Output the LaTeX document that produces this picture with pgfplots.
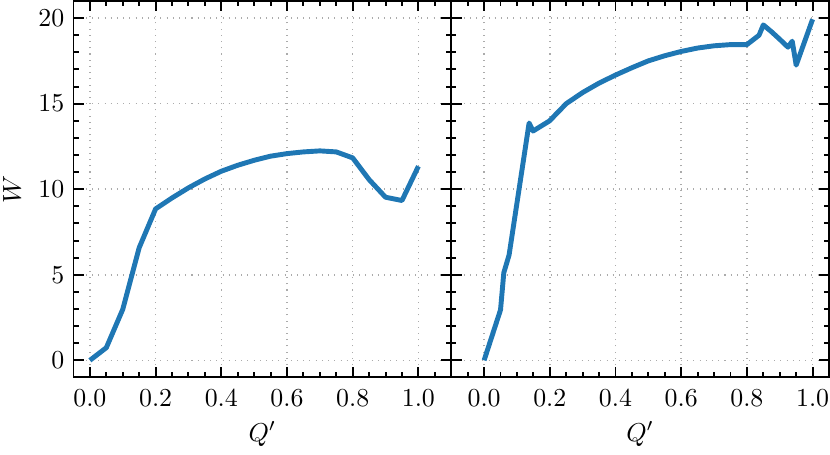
\documentclass[border=0pt]{standalone}
\usepackage{pgfplots}
\pgfplotsset{compat=1.18}
\definecolor{tabblue}{HTML}{1F77B4}
\pgfplotsset{
  myax/.style={
    scale only axis, width=146pt, height=145.5pt,
    ymin=-1, ymax=21,
    ytick={0,5,10,15,20},
    minor ytick={1,2,3,4,6,7,8,9,11,12,13,14,16,17,18,19},
    xtick={0,0.2,0.4,0.6,0.8,1},
    minor xtick={-0.05,0.05,0.1,0.15,0.25,0.3,0.35,0.45,0.5,0.55,0.65,0.7,0.75,0.85,0.9,0.95,1.05},
    tick align=inside,
    major tick length=4pt, minor tick length=2pt,
    every tick/.style={black, line width=0.75pt},
    axis line style={line width=0.75pt},
    grid=major,
    major grid style={dotted, color=black!33, line width=0.6pt},
    xticklabel style={/pgf/number format/fixed, /pgf/number format/fixed zerofill, /pgf/number format/precision=1, yshift=-1.2pt, inner xsep=0pt},
    xlabel={$Q'$},
    xlabel style={yshift=1pt},
  }
}
\begin{document}
\begin{tikzpicture}
\begin{axis}[myax, name=left, xmin=-0.05, xmax=1.1, ylabel={$W$}, ylabel style={inner xsep=3.33pt, inner ysep=1.2pt}, ylabel shift=2.1pt]
\addplot[tabblue, line width=1.9pt, line join=round] coordinates {
(0,0) (0.05,0.74) (0.10,2.98) (0.15,6.58) (0.20,8.85) (0.25,9.49) (0.30,10.08)
(0.35,10.6) (0.40,11.05) (0.45,11.4) (0.50,11.69) (0.55,11.93) (0.60,12.08)
(0.65,12.18) (0.70,12.24) (0.75,12.18) (0.80,11.83) (0.85,10.56) (0.90,9.53)
(0.95,9.34) (1.00,11.34)
};
\end{axis}
\begin{axis}[myax, at={(left.south east)}, anchor=south west, xmin=-0.1, xmax=1.05, yticklabels={}]
\addplot[tabblue, line width=1.9pt, line join=round] coordinates {
(0,0) (0.05,2.95) (0.06,5.12) (0.076,6.15) (0.137,13.87) (0.149,13.4) (0.199,13.99)
(0.25,15.0) (0.30,15.65) (0.35,16.2) (0.40,16.67) (0.45,17.1) (0.50,17.5)
(0.55,17.8) (0.60,18.05) (0.65,18.25) (0.70,18.38) (0.75,18.45) (0.80,18.45)
(0.837,19.0) (0.85,19.6) (0.875,19.2) (0.90,18.76) (0.925,18.3) (0.938,18.65)
(0.95,17.25) (1.00,19.93)
};
\end{axis}
\end{tikzpicture}
\end{document}
